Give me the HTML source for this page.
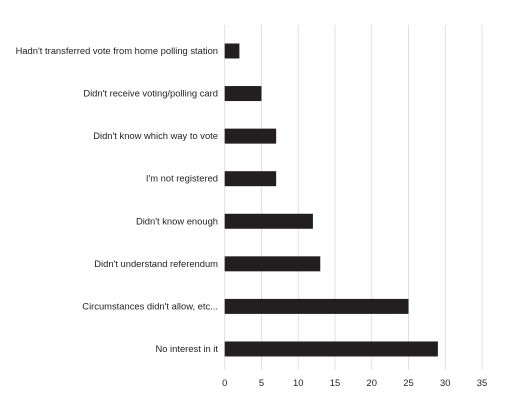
<!DOCTYPE html>
<html><head><meta charset="utf-8"><style>
body{margin:0;background:#fff;}
svg text{font-family:"Liberation Sans",sans-serif;font-size:9.4px;fill:#222;}
</style></head><body>
<svg width="512" height="402" id="c"></svg>
<script>
const categories=["Hadn't transferred vote from home polling station","Didn't receive voting/polling card","Didn't know which way to vote","I'm not registered","Didn't know enough","Didn't understand referendum","Circumstances didn't allow, etc...","No interest in it"];
const values=[2,5,7,7,12,13,25,29];
const ticks=[0,5,10,15,20,25,30,35];
const svg=document.getElementById('c');
const NS='http://www.w3.org/2000/svg';
const x0=224.7,x1=482,xmax=35,plotTop=25,plotBottom=370,bandStart=29.7,band=42.57,barH=15;
const xs=v=>x0+(x1-x0)*v/xmax;
const yc=i=>bandStart+band*(i+0.5);
function mk(t,a){const e=document.createElementNS(NS,t);for(const k in a)e.setAttribute(k,a[k]);svg.appendChild(e);return e;}
ticks.forEach(t=>{
const g=mk('line',{x1:xs(t),x2:xs(t),y1:plotTop,y2:plotBottom,stroke:'#e0e0e0','stroke-width':1});


const l=mk('text',{x:xs(t),y:386,'text-anchor':'middle'});l.textContent=t;


});
categories.forEach((c,i)=>{
const r=mk('rect',{x:x0,y:yc(i)-barH/2,width:xs(values[i])-x0,height:barH,fill:'#231f20'});


const l=mk('text',{x:218,y:yc(i)+3,'text-anchor':'end'});l.textContent=c;


});
</script>
</body></html>
